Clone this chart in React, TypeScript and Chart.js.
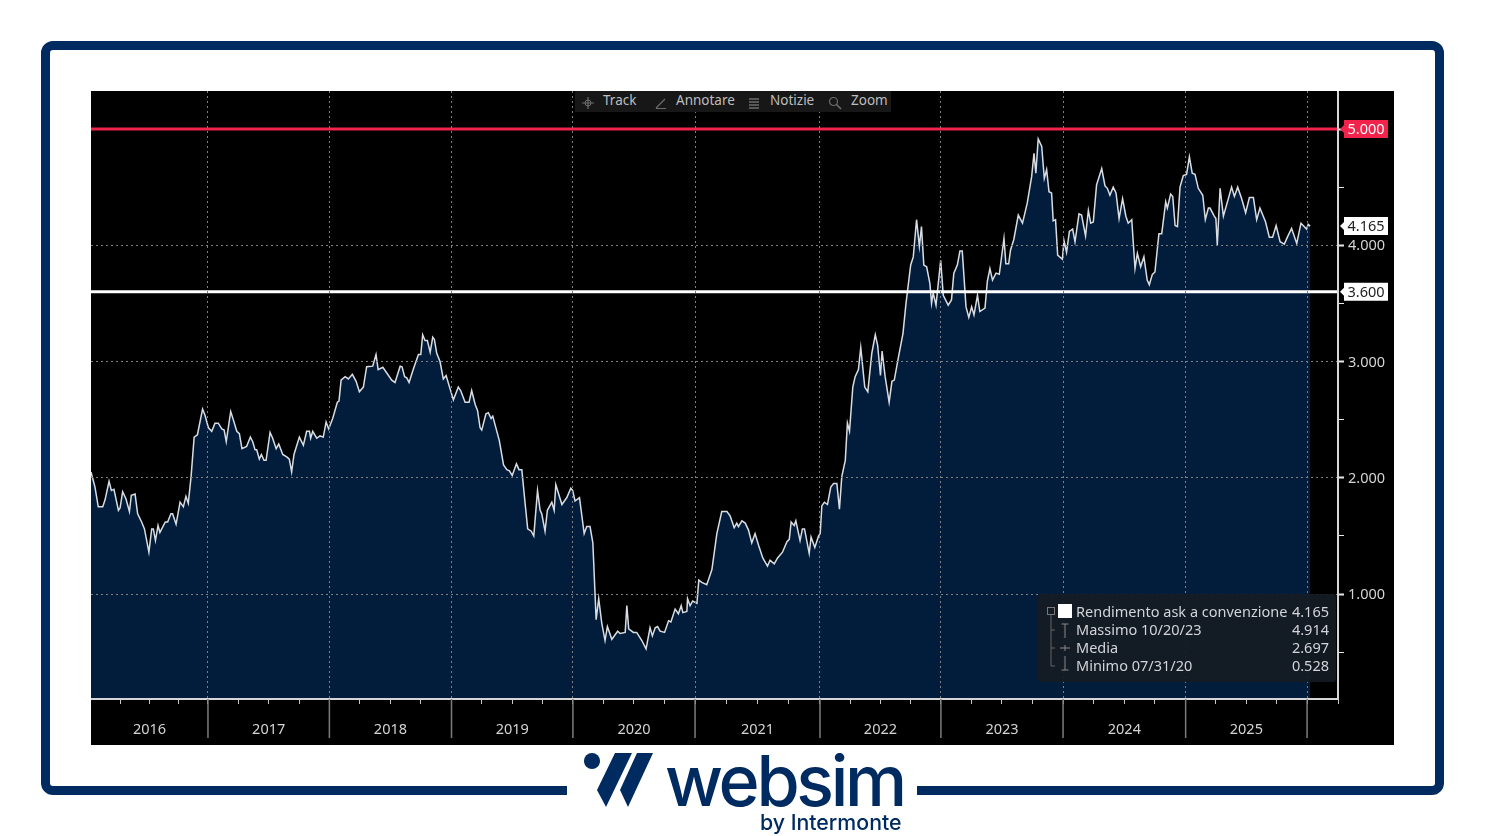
import React, { useEffect, useRef } from "react";
import Chart from "chart.js/auto";

// Weeks counted from the left edge of the plot, with the yield read at each week (percent).
const weeks = [
  0, 1.7, 3.1, 5.0, 6.0, 7.7, 8.7, 9.8, 11.7, 12.4, 13.5, 14.9, 16.4, 17.2, 18.8, 19.9, 21.6, 22.8, 24.7, 25.9,
  26.6, 27.5, 28.6, 29.4, 31.7, 32.7, 34.1, 34.8, 36.3, 38.0, 39.4, 40.5, 41.5, 42.7, 44.0, 45.4, 47.6, 48.6, 50.1, 51.5,
  52.9, 54.3, 55.8, 56.8, 57.7, 59.6, 60.7, 62.2, 63.3, 64.4, 66.4, 68.0, 69.0, 70.0, 70.7, 71.8, 72.7, 73.8, 74.7, 76.4,
  77.5, 79.0, 80.1, 81.8, 83.5, 84.6, 85.6, 86.6, 88.9, 90.6, 92.0, 93.2, 93.7, 94.6, 96.3, 97.7, 99.1, 100.3, 101.4, 103.1,
  105.1, 105.8, 106.7, 108.4, 109.8, 111.5, 113.1, 114.5, 116.2, 117.6, 120.2, 121.6, 122.5, 124.5, 128.3, 129.7, 131.9, 132.7, 133.8, 134.7,
  135.7, 137.6, 139.7, 140.7, 141.5, 142.5, 143.5, 144.7, 145.8, 146.5, 147.5, 148.9, 150.3, 151.5, 154.6, 156.7, 157.7, 159.6, 161.3, 162.4,
  163.9, 164.9, 166.0, 166.7, 168.5, 169.5, 170.7, 171.4, 174.2, 176.0, 177.4, 178.5, 179.7, 181.5, 182.6, 183.8, 185.2, 186.3, 187.8, 188.9,
  190.5, 191.6, 192.3, 193.7, 194.7, 196.6, 197.6, 198.3, 200.9, 203.0, 204.7, 205.5, 206.5, 208.4, 210.4, 211.5, 212.9, 214.1, 215.5, 216.6,
  217.9, 219.3, 220.3, 222.2, 223.6, 224.7, 225.7, 227.9, 228.6, 229.4, 231.4, 232.8, 235.0, 236.8, 238.5, 239.5, 240.7, 241.7, 242.8, 244.7,
  246.4, 247.4, 249.2, 250.6, 251.8, 252.5, 254.2, 254.5, 255.6, 256.7, 258.5, 259.3, 260.6, 262.7, 264.9, 267.0, 269.1, 271.3, 272.7, 274.4,
  275.5, 276.2, 277.7, 279.1, 280.5, 281.9, 283.3, 284.8, 286.6, 288.6, 289.7, 291.5, 292.9, 295.0, 296.9, 297.9, 298.7, 300.0, 300.7, 302.5,
  303.5, 304.4, 306.4, 307.2, 308.8, 310.4, 311.1, 311.8, 312.9, 314.2, 315.6, 316.8, 318.2, 319.3, 320.3, 321.8, 322.7, 323.6, 325.0, 326.0,
  327.4, 328.4, 330.1, 331.4, 333.1, 334.6, 335.6, 336.8, 337.5, 338.8, 340.5, 341.7, 342.7, 344.5, 346.4, 347.7, 349.7, 350.8, 352.2, 353.4,
  354.3, 355.3, 356.5, 357.9, 358.6, 359.3, 360.5, 362.5, 363.6, 365.7, 367.1, 368.1, 369.6, 370.7, 371.7, 373.3, 374.5, 375.7, 376.7, 378.2,
  379.2, 381.4, 382.4, 383.5, 384.6, 386.1, 387.5, 389.5, 390.3, 391.5, 392.3, 393.7, 395.6, 397.4, 399.4, 401.3, 402.3, 403.1, 404.1, 405.6,
  406.7, 407.7, 408.7, 409.8, 410.5, 411.5, 412.4, 414.4, 415.1, 416.2, 417.4, 418.8, 419.8, 421.5, 422.6, 424.3, 425.5, 426.5, 427.6, 429.0,
  431.2, 432.6, 433.6, 434.7, 436.1, 437.3, 438.6, 440.1, 441.5, 442.5, 444.0, 445.4, 446.4, 447.8, 449.2, 450.6, 451.5, 452.8, 453.9, 455.6,
  456.8, 458.5, 459.2, 460.6, 461.5, 462.5, 463.5, 464.6, 466.0, 467.4, 468.6, 469.8, 471.0, 472.4, 474.3, 475.4, 476.7, 477.4, 479.2, 479.9,
  480.5, 481.7, 483.1, 486.6, 487.8, 489.2, 490.9, 492.6, 494.2, 495.9, 497.3, 498.7, 501.1, 502.7, 504.1, 505.6, 507.3, 509.1, 510.4, 512.2,
  514.4, 516.2, 518.6, 519.3, 520.1,
];

const yields = [
  2.05, 1.92, 1.75, 1.75, 1.81, 1.97, 1.89, 1.90, 1.72, 1.74, 1.88, 1.82, 1.71, 1.85, 1.86, 1.69, 1.62, 1.56, 1.36, 1.56,
  1.56, 1.46, 1.59, 1.53, 1.62, 1.62, 1.69, 1.69, 1.60, 1.79, 1.75, 1.84, 1.78, 2.01, 2.35, 2.37, 2.59, 2.54, 2.43, 2.40,
  2.47, 2.47, 2.42, 2.41, 2.31, 2.57, 2.50, 2.40, 2.38, 2.25, 2.27, 2.35, 2.31, 2.24, 2.24, 2.16, 2.20, 2.15, 2.15, 2.39,
  2.34, 2.25, 2.29, 2.20, 2.18, 2.16, 2.05, 2.20, 2.35, 2.28, 2.40, 2.40, 2.34, 2.40, 2.34, 2.36, 2.35, 2.48, 2.42, 2.51,
  2.65, 2.66, 2.84, 2.87, 2.85, 2.89, 2.83, 2.74, 2.78, 2.955, 2.96, 3.06, 2.93, 2.95, 2.84, 2.82, 2.96, 2.955, 2.87, 2.86,
  2.82, 2.94, 3.06, 3.06, 3.23, 3.18, 3.18, 3.08, 3.21, 3.19, 3.07, 3.00, 2.85, 2.88, 2.67, 2.78, 2.75, 2.65, 2.65, 2.75,
  2.63, 2.58, 2.43, 2.41, 2.55, 2.56, 2.51, 2.53, 2.32, 2.11, 2.07, 2.06, 2.02, 2.12, 2.07, 2.07, 1.78, 1.56, 1.54, 1.50,
  1.89, 1.72, 1.69, 1.54, 1.72, 1.79, 1.72, 1.94, 1.77, 1.83, 1.91, 1.89, 1.80, 1.83, 1.52, 1.58, 1.58, 1.44, 0.78, 0.96,
  0.75, 0.60, 0.72, 0.61, 0.65, 0.68, 0.66, 0.67, 0.90, 0.70, 0.67, 0.67, 0.60, 0.528, 0.71, 0.64, 0.71, 0.72, 0.68, 0.67,
  0.77, 0.76, 0.87, 0.83, 0.90, 0.84, 0.85, 0.96, 0.90, 0.94, 0.92, 1.12, 1.10, 1.08, 1.21, 1.52, 1.71, 1.71, 1.67, 1.57,
  1.61, 1.58, 1.63, 1.61, 1.55, 1.44, 1.52, 1.42, 1.31, 1.24, 1.29, 1.26, 1.31, 1.36, 1.45, 1.47, 1.62, 1.59, 1.63, 1.46,
  1.56, 1.56, 1.35, 1.49, 1.40, 1.50, 1.52, 1.76, 1.79, 1.77, 1.92, 1.95, 1.95, 1.73, 2.01, 2.15, 2.47, 2.40, 2.78, 2.87,
  2.93, 3.12, 2.78, 2.74, 3.07, 3.23, 3.14, 2.88, 3.09, 2.87, 2.65, 2.83, 2.84, 3.04, 3.24, 3.50, 3.83, 3.90, 4.22, 3.99,
  4.16, 3.83, 3.815, 3.67, 3.50, 3.59, 3.485, 3.87, 3.57, 3.485, 3.53, 3.76, 3.83, 3.95, 3.95, 3.47, 3.38, 3.47, 3.40, 3.57,
  3.43, 3.46, 3.69, 3.80, 3.70, 3.76, 3.75, 4.06, 3.84, 3.84, 3.96, 4.05, 4.26, 4.19, 4.36, 4.59, 4.79, 4.62, 4.914, 4.85,
  4.575, 4.65, 4.46, 4.45, 4.21, 4.22, 3.915, 3.88, 4.04, 3.94, 4.12, 4.14, 4.03, 4.27, 4.26, 4.08, 4.30, 4.19, 4.20, 4.52,
  4.66, 4.51, 4.49, 4.43, 4.50, 4.45, 4.23, 4.40, 4.25, 4.19, 4.22, 3.80, 3.93, 3.815, 3.90, 3.70, 3.66, 3.75, 3.77, 4.10,
  4.10, 4.375, 4.32, 4.44, 4.42, 4.17, 4.16, 4.50, 4.60, 4.61, 4.76, 4.62, 4.61, 4.49, 4.43, 4.22, 4.32, 4.32, 4.25, 4.23,
  4.00, 4.49, 4.25, 4.50, 4.42, 4.50, 4.40, 4.28, 4.41, 4.41, 4.22, 4.32, 4.20, 4.07, 4.07, 4.17, 4.03, 4.01, 4.07, 4.145,
  4.015, 4.19, 4.14, 4.18, 4.165,
];

const yearLabels = ["2016", "2017", "2018", "2019", "2020", "2021", "2022", "2023", "2024", "2025"];
const yearBoundaries = [0, 49.9, 101.7, 153.8, 205.6, 257.7, 311, 362.6, 414.7, 467, 518.8];
const axisEndWeek = 532;
const yAxisTicks = [0.5, 1, 1.5, 2, 2.5, 3, 3.5, 4, 4.5, 5];
const redLevel = 5;
const whiteLevel = 3.6;
const lastValue = 4.165;

const legendRows = [
  { label: "Rendimento ask a convenzione", value: "4.165" },
  { label: "Massimo 10/20/23", value: "4.914" },
  { label: "Media", value: "2.697" },
  { label: "Minimo 07/31/20", value: "0.528" },
];

const toolbarItems = ["Track", "Annotare", "Notizie", "Zoom"];

const NAVY = "#002b61";
const FONT = "'Noto Sans', sans-serif";
const FS = 14.5;

function buildXTicks() {
  const out: { value: number }[] = [];
  for (let i = 0; i < yearBoundaries.length - 1; i++) {
    const s = yearBoundaries[i];
    const e = yearBoundaries[i + 1];
    if (i > 0) out.push({ value: s });
    [0.25, 0.5, 0.75].forEach((f) => out.push({ value: s + (e - s) * f }));
  }
  out.push({ value: yearBoundaries[yearBoundaries.length - 1] });
  out.push({ value: axisEndWeek });
  return out;
}

const overlayPlugin = {
  id: "bloombergOverlay",
  afterDraw(chart: any) {
    const { ctx, scales, chartArea } = chart;
    const x = scales.x;
    const y = scales.y;
    ctx.save();
    // long separators under the axis
    ctx.strokeStyle = "#7c7c7c";
    ctx.lineWidth = 1.5;
    yearBoundaries.slice(1).forEach((w) => {
      const px = x.getPixelForValue(w);
      ctx.beginPath();
      ctx.moveTo(px, chartArea.bottom);
      ctx.lineTo(px, chartArea.bottom + 39);
      ctx.stroke();
    });
    // value tags
    const tags = [
      { v: redLevel, bg: "#f2234a", fg: "#ffffff" },
      { v: lastValue, bg: "#ffffff", fg: "#222222" },
      { v: whiteLevel, bg: "#ffffff", fg: "#222222" },
    ];
    ctx.font = `${FS}px ${FONT}`;
    ctx.textBaseline = "middle";
    ctx.textAlign = "center";
    tags.forEach((t) => {
      const py = y.getPixelForValue(t.v);
      const left = chartArea.right + 6;
      ctx.fillStyle = t.bg;
      ctx.beginPath();
      ctx.moveTo(chartArea.right + 2, py);
      ctx.lineTo(left, py - 4);
      ctx.lineTo(left, py - 9);
      ctx.lineTo(left + 44, py - 9);
      ctx.lineTo(left + 44, py + 9);
      ctx.lineTo(left, py + 9);
      ctx.lineTo(left, py + 4);
      ctx.closePath();
      ctx.fill();
      ctx.fillStyle = t.fg;
      ctx.fillText(t.v.toFixed(3), left + 22, py + 1);
    });
    ctx.restore();
  },
};

function Icon({ i }: { i: number }) {
  const s = "#6d6d6d";
  if (i === 0)
    return (
      <svg width="14" height="14" viewBox="0 0 14 14">
        <path d="M7 1V13M1 7H13" stroke={s} strokeWidth="1.2" />
        <circle cx="7" cy="7" r="3" fill="none" stroke={s} />
      </svg>
    );
  if (i === 1)
    return (
      <svg width="14" height="14" viewBox="0 0 14 14">
        <path d="M2 12L11 3M2 12.5H12" stroke={s} strokeWidth="1.2" />
      </svg>
    );
  if (i === 2)
    return (
      <svg width="14" height="14" viewBox="0 0 14 14">
        <path d="M2 3H12M2 6H12M2 9H12M2 12H12" stroke={s} strokeWidth="1.4" />
      </svg>
    );
  return (
    <svg width="14" height="14" viewBox="0 0 14 14">
      <circle cx="5.5" cy="5.5" r="4" fill="none" stroke={s} strokeWidth="1.2" />
      <path d="M8.5 8.5L13 13" stroke={s} strokeWidth="1.6" />
    </svg>
  );
}

const toolbarIconX = [581, 654, 747, 828];
const toolbarTextX = [603, 676, 770, 851];
const legendRowY = [602, 620, 638, 656];

function noPadding(s: any) {
  s.paddingTop = 0;
  s.paddingBottom = 0;
  s.paddingLeft = 0;
  s.paddingRight = 0;
}

export default function App() {
  const ref = useRef<HTMLCanvasElement>(null);
  useEffect(() => {
    const points = weeks.map((w, i) => ({ x: w, y: yields[i] }));
    const chart = new Chart(ref.current!, {
      type: "line",
      data: {
        datasets: [
          {
            label: "Soglia 5.000",
            data: [{ x: 0, y: redLevel }, { x: axisEndWeek, y: redLevel }],
            borderColor: "#f2234a",
            borderWidth: 3,
            pointRadius: 0,
            fill: false,
          },
          {
            label: "Soglia 3.600",
            data: [{ x: 0, y: whiteLevel }, { x: axisEndWeek, y: whiteLevel }],
            borderColor: "#ffffff",
            borderWidth: 3,
            pointRadius: 0,
            fill: false,
          },
          {
            label: "Rendimento ask a convenzione",
            data: points,
            borderColor: "#d9dde2",
            borderWidth: 1.5,
            backgroundColor: "#021d3b",
            pointRadius: 0,
            tension: 0,
            fill: "start",
          },
        ],
      },
      options: {
        animation: false,
        responsive: false,
        devicePixelRatio: 1,
        layout: { padding: 0 },
        plugins: { legend: { display: false }, tooltip: { enabled: false } },
        scales: {
          x: {
            type: "linear",
            min: 0,
            max: axisEndWeek,
            afterFit(s: any) { s.height = 46; noPadding(s); },
            afterBuildTicks(s: any) { s.ticks = buildXTicks(); },
            border: { color: "#d6d6d6", width: 2, dash: [2, 3], z: 2 },
            grid: {
              z: 1,
              tickLength: 5,
              lineWidth: 1,
              color: (c: any) => yearBoundaries.slice(1).includes(c.tick?.value) ? "#7f7f7f" : "rgba(0,0,0,0)",
              tickColor: "#c8c8c8",
            },
            ticks: {
              autoSkip: false,
              maxRotation: 0,
              padding: 17,
              color: "#d4d4d4",
              font: { family: FONT, size: FS },
              callback(value: any) {
                const i = yearBoundaries.findIndex((b, k) => k < yearLabels.length && Math.abs(value - (b + yearBoundaries[k + 1]) / 2) < 0.01);
                return i >= 0 ? yearLabels[i] : "";
              },
            },
          },
          y: {
            position: "right",
            min: 0.097,
            max: 5.327,
            afterFit(s: any) { s.width = 56; noPadding(s); },
            afterBuildTicks(s: any) { s.ticks = yAxisTicks.map((value) => ({ value })); },
            border: { color: "#d6d6d6", width: 2, dash: [2, 3], z: 2 },
            grid: {
              z: 1,
              tickLength: 6,
              color: (c: any) => Number.isInteger(c.tick?.value) && c.tick.value < 5 ? "#7f7f7f" : "rgba(0,0,0,0)",
              tickColor: "#e8e8e8",
              tickWidth: (c: any) => Number.isInteger(c.tick?.value) ? 2 : 1,
            },
            ticks: {
              padding: 4,
              labelOffset: 1,
              color: "#d4d4d4",
              font: { family: FONT, size: FS },
              callback(value: any) {
                return Number.isInteger(value) && value < 5 ? Number(value).toFixed(3) : "";
              },
            },
          },
        },
      },
      plugins: [overlayPlugin],
    } as any);
    return () => chart.destroy();
  }, []);

  const abs = (o: React.CSSProperties): React.CSSProperties => ({ position: "absolute", whiteSpace: "nowrap", ...o });

  return (
    <div style={{ position: "fixed", left: 0, top: 0, width: 1485, height: 836, background: "#fff", overflow: "hidden", fontFamily: FONT }}>
      <div style={abs({ left: 41, top: 41, width: 1385, height: 736, border: `9px solid ${NAVY}`, borderRadius: 12 })} />
      <div style={abs({ left: 567, top: 760, width: 350, height: 60, background: "#fff" })} />

      <div style={abs({ left: 0, top: 0, width: 1485, height: 745, filter: "blur(0.35px)" })}>
        <canvas ref={ref} width={1303} height={654} style={abs({ left: 91, top: 91, width: 1303, height: 654, display: "block", background: "#000" })} />

        {/* toolbar */}
        <div style={abs({ left: 575, top: 91, width: 316, height: 21, background: "#171717" })} />
        {toolbarItems.map((t, i) => (
          <React.Fragment key={t}>
            <div style={abs({ left: toolbarIconX[i], top: 93, width: 14, height: 14 })}><Icon i={i} /></div>
            <div style={abs({ left: toolbarTextX[i], top: 91, fontSize: 13.5, lineHeight: "18px", color: "#bdbdbd" })}>{t}</div>
          </React.Fragment>
        ))}

        {/* legend */}
        <div style={abs({ left: 1038, top: 594, width: 298, height: 88, background: "rgba(20,27,36,0.93)", borderRadius: 3 })} />
        <div style={abs({ left: 1058, top: 604, width: 14, height: 14, background: "#fff" })} />
        <svg style={abs({ left: 1044, top: 602, width: 30, height: 74 })} viewBox="0 0 30 74">
          <rect x="3.5" y="5.5" width="7" height="7" fill="none" stroke="#777" />
          <path d="M7 13V64H11M7 28H11M7 46H11" stroke="#666" fill="none" />
          <path d="M21 22V36M17.5 22H24.5M16 46H26M21 43V49M21 54V68M17.5 68H24.5" stroke="#8a8a8a" fill="none" />
        </svg>
        {legendRows.map((r, i) => (
          <React.Fragment key={r.label}>
            <div style={abs({ left: 1076, top: legendRowY[i], fontSize: FS, lineHeight: "18px", color: "#d2d5d9" })}>{r.label}</div>
            <div style={abs({ right: 1485 - 1329, top: legendRowY[i], fontSize: FS, lineHeight: "18px", color: "#d2d5d9" })}>{r.value}</div>
          </React.Fragment>
        ))}
      </div>

      {/* logo */}
      <svg style={abs({ left: 580, top: 748, width: 76, height: 62 })} viewBox="580 748 76 62">
        <circle cx="592" cy="761" r="8" fill={NAVY} />
        <polygon points="615,753 632,753 606,807 597,790" fill={NAVY} />
        <polygon points="637,753 653,753 628,807 620,790" fill={NAVY} />
      </svg>
      <div style={abs({ left: 665, top: 741, fontFamily: "Inter, sans-serif", fontWeight: 500, fontSize: 70, lineHeight: "80px", letterSpacing: -3.3, color: NAVY })}>websim</div>
      <div style={abs({ left: 760, top: 809, fontFamily: "Inter, sans-serif", fontWeight: 500, fontSize: 21.3, lineHeight: "27px", color: NAVY })}>by Intermonte</div>
    </div>
  );
}
